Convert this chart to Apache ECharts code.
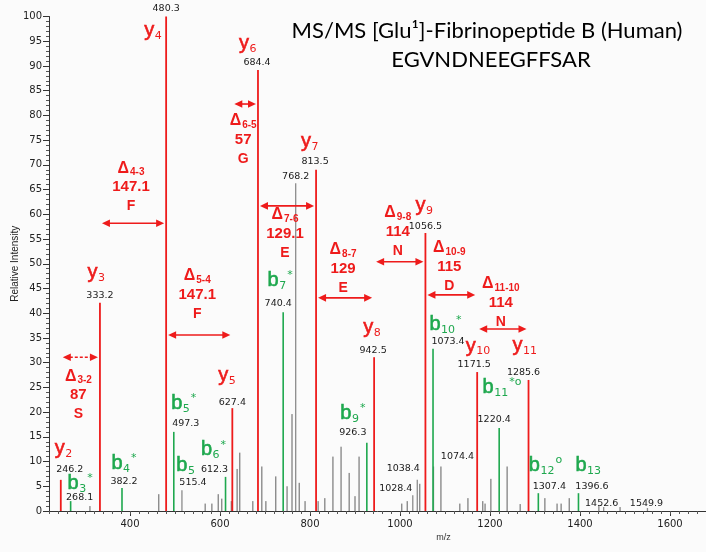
<!DOCTYPE html>
<html>
<head>
<meta charset="utf-8">
<script src="https://cdn.jsdelivr.net/npm/echarts@6/dist/echarts.min.js"></script>
<style>
html,body{margin:0;padding:0;background:#fbfbfb;}
#chart{width:706px;height:552px;}
</style>
</head>
<body>
<div id="chart"></div>
<script>
// ---------------- DATA ----------------
const titleLine1 = 'MS/MS [Glu\u00B9]-Fibrinopeptide B (Human)';
const titleLine2 = 'EGVNDNEEGFFSAR';
const xAxisName = 'm/z';
const yAxisName = 'Relative Intensity';
const xTickLabels = [400, 600, 800, 1000, 1200, 1400, 1600];

// y-ions (red)
const yIonMz  = [246.2, 333.2, 480.3, 627.4, 684.4, 813.5, 942.5, 1056.5, 1171.5, 1285.6];
const yIonInt = [6.3, 42.1, 100, 20.8, 89.2, 69.0, 31.1, 56.2, 28.1, 26.5];
const yIonNum = ['2', '3', '4', '5', '6', '7', '8', '9', '10', '11'];

// b-ions (green)
const bIonMz   = [268.1, 382.2, 497.3, 612.3, 740.4, 926.3, 1073.4, 1220.4, 1307.4, 1396.6];
const bIonInt  = [2.0, 4.65, 16.0, 6.9, 40.2, 13.8, 32.8, 16.8, 3.6, 3.6];
const bIonNum  = ['3', '4', '5', '6', '7', '9', '10', '11', '12', '13'];
const bIonMark = ['*', '*', '*', '*', '*', '*', '*', '*o', 'o', ''];

// other labelled peaks (grey)
const otherMz  = [515.4, 768.2, 1028.4, 1038.4, 1074.4, 1452.6, 1549.9];
const otherInt = [4.2, 66.3, 3.2, 6.3, 9.0, 0.8, 0.6];
// grey peak 515.4 carries the b5 ion label
const extraIonMz = [515.4];
const extraIonNum = ['5'];
const extraIonMark = [''];

// unlabelled grey peaks [m/z, intensity]
const greyPeaks = [
  [311,1.0],[464,3.4],[567,1.5],[582,1.5],[596,3.4],[604,2.5],[625,2.0],[638,8.5],[644,11.8],
  [673,2.0],[693,9.0],[702,2.0],[724,7.0],[749,5.0],[760,19.6],[776,5.7],[789,2.0],[818,2.0],
  [833,2.6],[851,11.0],[869,13.0],[887,7.7],[900,3.0],[909,11.0],[1004,1.5],[1016,2.0],
  [1044,5.5],[1091,9.0],[1133,1.5],[1151,2.6],[1184,2.0],[1189,1.5],[1202,6.5],[1238,9.0],
  [1267,1.4],[1322,2.6],[1349,1.5],[1358,1.5],[1376,2.6],[1442,1.0],[1489,0.8]
];

// mass differences between consecutive y-ions
const deltaSteps    = ['3-2', '4-3', '5-4', '6-5', '7-6', '8-7', '9-8', '10-9', '11-10'];
const deltaMasses   = ['87', '147.1', '147.1', '57', '129.1', '129', '114', '115', '114'];
const deltaResidues = ['S', 'F', 'F', 'G', 'E', 'E', 'N', 'D', 'N'];

// ---------------- LAYOUT / STYLE ----------------
const RED = '#ee1b1b', GREEN = '#1ea84e', GREY = '#5f5f5f', TXT = '#1a1a1a';
const NUMFONT = "'DejaVu Sans', sans-serif";
const IONFONT = "'Liberation Sans', Arial, sans-serif";
// pixel offsets of number labels (by m/z) from the peak top
const numOffset = {
  '246.2':[9,-10],'268.1':[9,-4],'333.2':[0,-7],'382.2':[2,-6],'480.3':[0,-7.5],'497.3':[12,-8.5],
  '515.4':[11,-8],'612.3':[-11,-7],'627.4':[0,-6],'684.4':[-1,-7],'740.4':[-5,-9],'768.2':[0,-7],
  '813.5':[-1,-8],'926.3':[-14,-10],'942.5':[-1,-7],'1028.4':[-17,-7],'1038.4':[-14,-11],
  '1056.5':[0,-7],'1073.4':[15,-7],'1074.4':[24,-9.5],'1171.5':[-3,-7.5],'1220.4':[-5,-8],
  '1285.6':[-5,-7.5],'1307.4':[11,-7],'1396.6':[13.5,-7],'1452.6':[-2,-4],'1549.9':[-1,-5]
};
// pixel offsets of ion letters (em middle) from the peak top
const yIonOffset = [[-1,-31.5],[-7.5,-30.5],[-17,14],[-9,-32.5],[-14,-26.5],[-10,-28.5],[-6,-29.5],[-5,-27.5],[-6.5,-26],[-11,-34]];
const bIonOffset = [[2.5,-17.5],[-5,-24.5],[3,-28.5],[-19,-27],[-10,-32],[-21,-29.5],[2,-24],[-11,-40.5],[-4,-28],[2.5,-28]];
const extraIonOffset = [[0,-25]];
// delta arrows: level (in intensity units), text offset of first line (px), dashed
const deltaLevel = [31.1, 58.2, 35.6, 82.3, 61.7, 43.1, 50.4, 43.7, 36.8];
const deltaTextDy = [19, -55, -59, 17, 9, -48, -49, -47, -45];
const deltaDashed = [true, false, false, false, false, false, false, false, false];

// ---------------- HELPERS ----------------
const mctx = document.createElement('canvas').getContext('2d');
function tw(t, font){ mctx.font = font; return mctx.measureText(t).width; }

function peakSeries(mz, inten, color, width, z){
  return {
    type:'custom', silent:true, z:z, data: mz.map((m,i)=>[m, inten[i]]),
    renderItem(params, api){
      const b = api.coord([api.value(0), 0]);
      const t = api.coord([api.value(0), api.value(1)]);
      return {type:'line', shape:{x1:b[0], y1:b[1], x2:t[0], y2:t[1]}, style:{stroke:color, lineWidth:width}};
    }
  };
}

const numLabels = [];
yIonMz.forEach((m,i)=>numLabels.push([m, yIonInt[i]]));
bIonMz.forEach((m,i)=>numLabels.push([m, bIonInt[i]]));
otherMz.forEach((m,i)=>numLabels.push([m, otherInt[i]]));

function lookupInt(m){
  let i = otherMz.indexOf(m); if(i>=0) return otherInt[i];
  i = bIonMz.indexOf(m); if(i>=0) return bIonInt[i];
  i = yIonMz.indexOf(m); return yIonInt[i];
}

const ionLabels = [];
yIonMz.forEach((m,i)=>ionLabels.push({letter:'y', num:yIonNum[i], mark:'', mz:m, int:yIonInt[i], color:RED, off:yIonOffset[i]}));
bIonMz.forEach((m,i)=>ionLabels.push({letter:'b', num:bIonNum[i], mark:bIonMark[i], mz:m, int:bIonInt[i], color:GREEN, off:bIonOffset[i]}));
extraIonMz.forEach((m,i)=>ionLabels.push({letter:'b', num:extraIonNum[i], mark:extraIonMark[i], mz:m, int:lookupInt(m), color:GREEN, off:extraIonOffset[i]}));

const minorTicks = [];
for (let v = 220; v <= 1680; v += 20) minorTicks.push(v);

const chart = echarts.init(document.getElementById('chart'), null, {renderer:'canvas'});

const option = {
  backgroundColor:'#fbfbfb',
  animation:false,
  grid:{left:49, right:0, top:16.5, bottom:41, containLabel:false, outerBoundsMode:'none'},
  graphic:[
    {type:'text', x:487, y:31, style:{text:titleLine1, font:"22px 'Lato', sans-serif", fill:'#000', align:'center', verticalAlign:'middle'}},
    {type:'text', x:491, y:60, style:{text:titleLine2, font:"22px 'Lato', sans-serif", fill:'#000', align:'center', verticalAlign:'middle'}}
  ],
  xAxis:[{
    type:'value', min:220, max:1680, position:'bottom',
    name:xAxisName, nameLocation:'middle', nameGap:22, nameMoveOverlap:false,
    nameTextStyle:{fontFamily:IONFONT, fontSize:9, color:'#333', padding:[0,0,0,132]},
    axisLine:{lineStyle:{color:'#333', width:1}},
    axisTick:{show:true, length:5, customValues:xTickLabels, lineStyle:{color:'#333'}},
    axisLabel:{customValues:xTickLabels, formatter:(v)=>String(v), fontFamily:NUMFONT, fontSize:10, color:'#222', margin:8},
    splitLine:{show:false}
  },{
    type:'value', min:220, max:1680, position:'bottom',
    axisLine:{show:false},
    axisTick:{show:true, length:3, customValues:minorTicks, lineStyle:{color:'#555'}},
    axisLabel:{show:false},
    splitLine:{show:false}
  }],
  yAxis:{
    type:'value', min:0, max:100, interval:5,
    name:yAxisName, nameLocation:'middle', nameGap:29, nameRotate:90, nameMoveOverlap:false,
    nameTextStyle:{fontFamily:IONFONT, fontSize:10, color:'#222'},
    axisLine:{show:true, lineStyle:{color:'#333'}},
    axisTick:{show:true, length:6, lineStyle:{color:'#333'}},
    minorTick:{show:true, splitNumber:5, length:3, lineStyle:{color:'#555'}},
    axisLabel:{fontFamily:NUMFONT, fontSize:10, color:'#222', margin:7},
    splitLine:{show:false}, minorSplitLine:{show:false}
  },
  series:[
    peakSeries(greyPeaks.map(p=>p[0]), greyPeaks.map(p=>p[1]), GREY, 1, 2),
    peakSeries(otherMz, otherInt, '#8c8c8c', 1.3, 2),
    peakSeries(bIonMz, bIonInt, GREEN, 1.6, 3),
    peakSeries(yIonMz, yIonInt, RED, 1.8, 4),
    // number labels
    {
      type:'custom', silent:true, z:6, data:numLabels,
      renderItem(params, api){
        const m = api.value(0), v = api.value(1);
        const p = api.coord([m, v]);
        const key = m.toFixed(1);
        const o = numOffset[key] || [0,-7];
        return {type:'text', x:p[0]+o[0], y:p[1]+o[1], style:{text:key, font:'9.5px '+NUMFONT, fill:TXT, align:'center', verticalAlign:'middle'}};
      }
    },
    // ion labels
    {
      type:'custom', silent:true, z:7, data:ionLabels.map(l=>[l.mz, l.int]),
      renderItem(params, api){
        const L = ionLabels[params.dataIndex];
        const p = api.coord([L.mz, L.int]);
        const cx = p[0]+L.off[0], cy = p[1]+L.off[1];
        const fMain = '20px '+IONFONT, fSub = '11px '+NUMFONT;
        const w1 = tw(L.letter, fMain), w2 = tw(L.num, fSub);
        const ch = [
          {type:'text', x:cx, y:cy, style:{text:L.letter, font:fMain, fill:L.color, align:'center', verticalAlign:'middle', stroke:L.color, lineWidth:0.6}},
          {type:'text', x:cx+w1/2+0.5, y:cy+5.5, style:{text:L.num, font:fSub, fill:L.color, align:'left', verticalAlign:'middle'}}
        ];
        if (L.mark) ch.push({type:'text', x:cx+w1/2+w2+1.5, y:cy-5, style:{text:L.mark, font:fSub, fill:L.color, align:'left', verticalAlign:'middle'}});
        return {type:'group', children:ch};
      }
    },
    // delta arrows + annotation
    {
      type:'custom', silent:true, z:8, data:deltaSteps.map((s,i)=>[yIonMz[i], deltaLevel[i]]),
      renderItem(params, api){
        const i = params.dataIndex;
        const a = api.coord([yIonMz[i], deltaLevel[i]]);
        const b = api.coord([yIonMz[i+1], deltaLevel[i]]);
        const x1 = a[0]+2, x2 = b[0]-2, y = a[1];
        const hl = 8, hw = 3.8;
        const ch = [
          {type:'line', shape:{x1:x1+hl-1, y1:y, x2:x2-hl+1, y2:y}, style:{stroke:RED, lineWidth:1.6, lineDash: deltaDashed[i] ? [3,2] : null}},
          {type:'polygon', shape:{points:[[x1,y],[x1+hl,y-hw],[x1+hl,y+hw]]}, style:{fill:RED}},
          {type:'polygon', shape:{points:[[x2,y],[x2-hl,y-hw],[x2-hl,y+hw]]}, style:{fill:RED}}
        ];
        const cx = (x1+x2)/2 - 2;
        const ty = y + deltaTextDy[i];
        const fD = 'bold 16px '+IONFONT, fS = 'bold 10px '+IONFONT;
        const wD = tw('\u0394', fD), wS = tw(deltaSteps[i], fS);
        const sx = cx - (wD+wS+1)/2;
        ch.push({type:'text', x:sx, y:ty, style:{text:'\u0394', font:fD, fill:RED, align:'left', verticalAlign:'middle'}});
        ch.push({type:'text', x:sx+wD+1, y:ty+4, style:{text:deltaSteps[i], font:fS, fill:RED, align:'left', verticalAlign:'middle'}});
        ch.push({type:'text', x:cx, y:ty+19, style:{text:deltaMasses[i], font:'bold 15px '+IONFONT, fill:RED, align:'center', verticalAlign:'middle'}});
        ch.push({type:'text', x:cx, y:ty+38, style:{text:deltaResidues[i], font:'bold 14px '+IONFONT, fill:RED, align:'center', verticalAlign:'middle'}});
        return {type:'group', children:ch};
      }
    }
  ]
};
chart.setOption(option);
</script>
</body>
</html>
